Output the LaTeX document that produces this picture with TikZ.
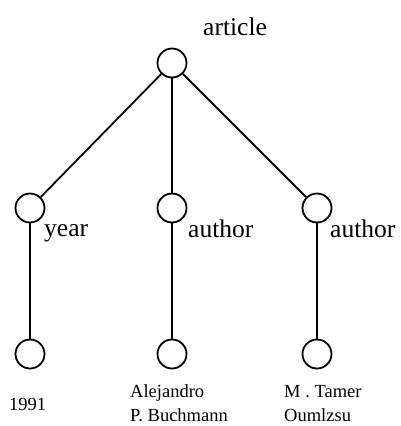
\documentclass[tikz,border=0pt]{standalone}
\usepackage{fontspec}
\setmainfont{Liberation Serif}
\begin{document}
\begin{tikzpicture}[x=1pt,y=-1pt,
  vertex/.style={circle,draw,line width=1.8pt,minimum size=29pt,inner sep=0pt},
  edge/.style={line width=1.8pt},
  tag/.style={anchor=base west,inner sep=0pt,font=\fontsize{25.5}{25.5}\selectfont},
  leaf/.style={anchor=base west,inner sep=0pt,font=\fontsize{18.5}{25}\selectfont}]
\useasboundingbox (0,0) rectangle (400,426);
% tree vertices
\node[vertex] (root) at (172,63) {};
\node[vertex] (yr)   at (30,208) {};
\node[vertex] (au1)  at (172,208) {};
\node[vertex] (au2)  at (317,208) {};
\node[vertex] (v1)   at (30,354) {};
\node[vertex] (v2)   at (172,354) {};
\node[vertex] (v3)   at (317,354) {};
% edges
\draw[edge] (root) -- (yr);
\draw[edge] (root) -- (au1);
\draw[edge] (root) -- (au2);
\draw[edge] (yr) -- (v1);
\draw[edge] (au1) -- (v2);
\draw[edge] (au2) -- (v3);
% element labels
\node[tag] (tArticle) at (203,35) {article};
\node[tag] (tYear)    at (44,236) {year};
\node[tag] (tAu1)     at (188,237) {author};
\node[tag] (tAu2)     at (330,237) {author};
% values, one baseline per line
\node[leaf] (lYear)  at (9,410)   {1991};
\node[leaf] (lAu1a)  at (130,397) {Alejandro};
\node[leaf] (lAu1b)  at (130,421) {P.\ Buchmann};
\node[leaf] (lAu2a)  at (284,397) {M . Tamer};
\node[leaf] (lAu2b)  at (284,421) {Oumlzsu};
\end{tikzpicture}
\end{document}
